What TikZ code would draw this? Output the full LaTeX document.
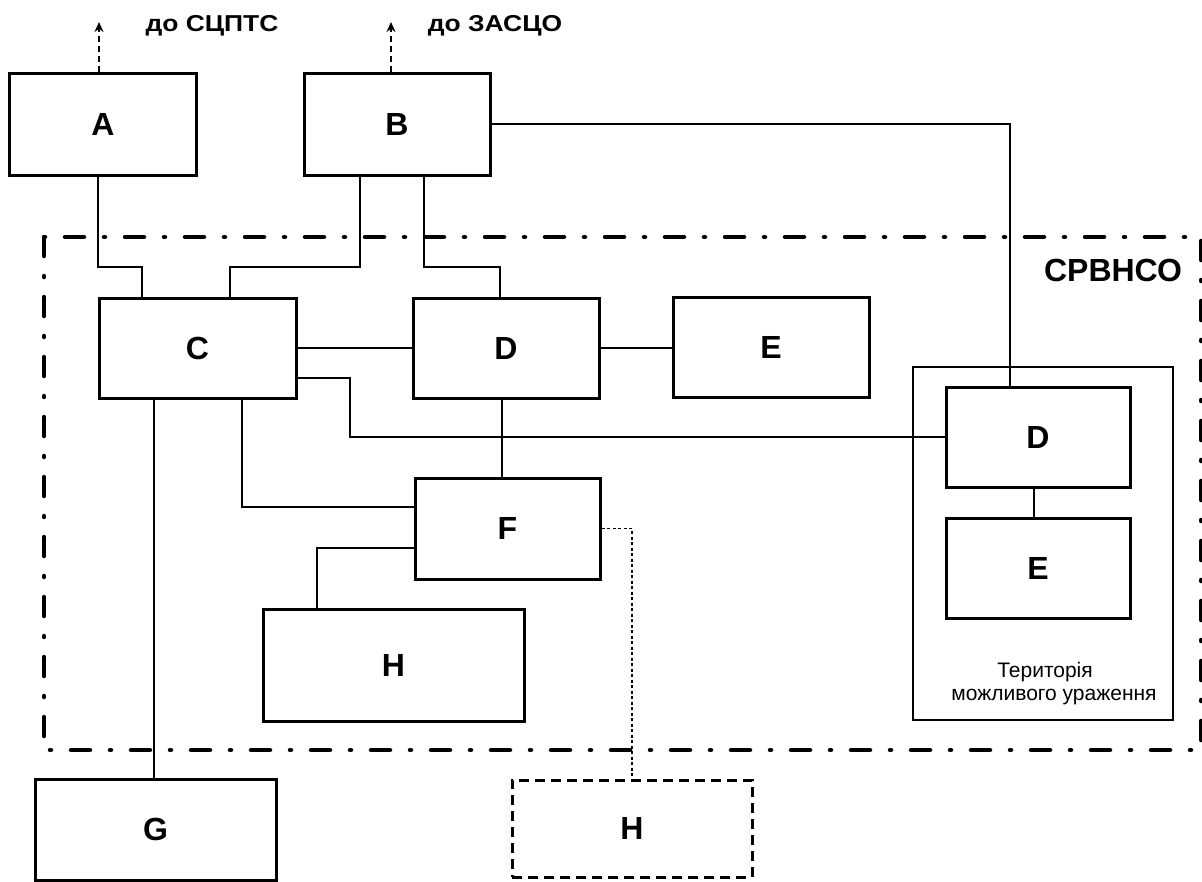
\documentclass[tikz,border=0pt]{standalone}
\usepackage{fontspec}
\setmainfont{Liberation Sans}
\usetikzlibrary{arrows.meta}
\tikzset{
  blk/.style={draw, line width=3pt, minimum width=#1, inner sep=0pt,
    font=\fontsize{32}{36}\selectfont\bfseries},
  conn/.style={line width=1.5pt},
  dotconn/.style={line width=1.5pt, dash pattern=on 3pt off 2.5pt},
  dblk/.style={blk=#1, dash pattern=on 10pt off 6pt},
  framebox/.style={line width=4.5pt, line cap=round, dash pattern=on 19pt off 20pt on 1pt off 20pt},
  outarrow/.style={line width=2.2pt, dash pattern=on 6pt off 4pt, -{Stealth[length=10pt,width=9pt]}},
  lbl/.style={font=\fontsize{23}{26}\selectfont\bfseries},
  tlbl/.style={font=\fontsize{21}{24}\selectfont},
}
\begin{document}
\begin{tikzpicture}[x=1pt,y=-1pt]
\useasboundingbox (0,0) rectangle (1202,881);
% frame
\draw[framebox] (44,237) rectangle (1201,750);
\node[font=\fontsize{32}{36}\selectfont\bfseries] (srv) at (1113,270) {СРВНСО};
% territory
\node[draw, line width=1.8pt, minimum width=260pt, minimum height=353pt] (T) at (1043,543.5) {};
\node[tlbl] (t1) at (1045,672) {Територія};
\node[tlbl] (t2) at (1054,697) {можливого ураження};
% boxes
\node[blk=187pt, minimum height=102pt] (A) at (103,124) {A};
\node[blk=186pt, minimum height=102pt] (B) at (397,124) {B};
\node[blk=197pt, minimum height=100pt] (C) at (197.5,348) {C};
\node[blk=186pt, minimum height=100pt] (D) at (506,348) {D};
\node[blk=196pt, minimum height=100pt] (E) at (771,347) {E};
\node[blk=185pt, minimum height=101pt] (F) at (507.5,528.5) {F};
\node[blk=261pt, minimum height=112pt] (H) at (393.5,665) {H};
\node[blk=241pt, minimum height=101pt] (G) at (155.5,829.5) {G};
\node[dblk=240pt, minimum height=97pt] (H2) at (632,828.5) {H};
\node[blk=184pt, minimum height=100pt] (D2) at (1038,437) {D};
\node[blk=184pt, minimum height=100pt] (E2) at (1038,568) {E};
% outgoing arrows
\coordinate (a1) at (99,22);
\coordinate (b1) at (391,22);
\draw[outarrow] ([xshift=-4pt]A.north) -- (a1);
\draw[outarrow] ([xshift=-6pt]B.north) -- (b1);
\node[lbl, xscale=1.15] (la) at (212,26) {до СЦПТС};
\node[lbl, xscale=1.15] (lb) at (495,26) {до ЗАСЦО};
% connectors
\draw[conn] ([xshift=-5pt]A.south) -- (98,267) -- (142,267) -- ([xshift=-55.5pt]C.north);
\draw[conn] ([xshift=-37pt]B.south) -- (360,267) -- (230,267) -- ([xshift=32.5pt]C.north);
\draw[conn] ([xshift=27pt]B.south) -- (424,267) -- (500,267) -- ([xshift=-6pt]D.north);
\draw[conn] (B.east) -| ([xshift=-28pt]D2.north);
\draw[conn] (C.east) -- (D.west);
\draw[conn] (D.east) -- ([yshift=-1pt]E.west);
\draw[conn] ([yshift=-30pt]C.east) -- (350,378) -- (350,437) -- (D2.west);
\draw[conn] ([xshift=-4pt]D.south) -- ([xshift=-5.5pt]F.north);
\draw[conn] ([xshift=44.5pt]C.south) |- ([yshift=21.5pt]F.west);
\draw[conn] ([xshift=-43.5pt]C.south) -- ([xshift=-1.5pt]G.north);
\draw[conn] ([yshift=-19.5pt]F.west) -| ([xshift=-76.5pt]H.north);
\draw[dotconn] (F.east) -| (H2.north);
\draw[conn] ([xshift=-4pt]D2.south) -- ([xshift=-4pt]E2.north);
\end{tikzpicture}
\end{document}
